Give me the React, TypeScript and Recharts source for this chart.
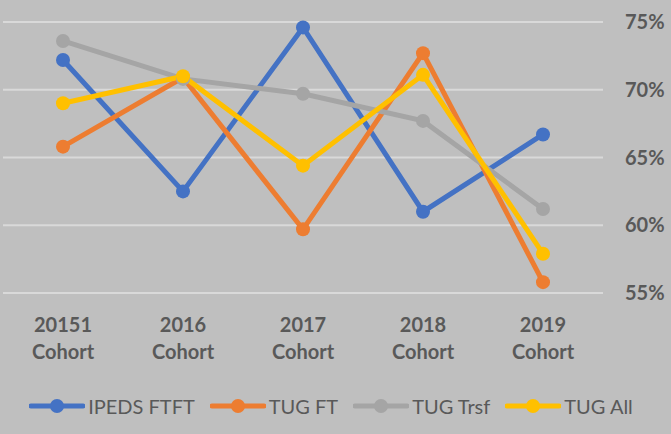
import React from "react";
import { LineChart, Line, XAxis, YAxis, CartesianGrid, Legend } from "recharts";

const cohortYears = ["20151", "2016", "2017", "2018", "2019"];
const cohortSuffix = "Cohort";
const ipedsFtft = [72.2, 62.5, 74.6, 61.0, 66.7];
const tugFt = [65.8, 70.9, 59.7, 72.7, 55.8];
const tugTrsf = [73.6, 70.8, 69.7, 67.7, 61.2];
const tugAll = [69.0, 71.0, 64.4, 71.1, 57.9];
const yTicks = [55, 60, 65, 70, 75];

const series = [
  { key: "ipeds", name: "IPEDS FTFT", color: "#4472C4", values: ipedsFtft },
  { key: "tugft", name: "TUG FT", color: "#ED7D31", values: tugFt },
  { key: "trsf", name: "TUG Trsf", color: "#A5A5A5", values: tugTrsf },
  { key: "all", name: "TUG All", color: "#FFC000", values: tugAll },
];

const data = cohortYears.map((y, i) => {
  const row: any = { cat: y };
  series.forEach((s) => (row[s.key] = s.values[i]));
  return row;
});

const FONT = "Lato, 'Open Sans', sans-serif";
const TEXT = "#595959";

const XTick = (props: any) => {
  const { x, y, payload } = props;
  return (
    <text x={x} y={y} textAnchor="middle" fill={TEXT} fontFamily={FONT} fontWeight={700} fontSize={20}>
      <tspan x={x} dy={31}>{payload.value}</tspan>
      <tspan x={x} dy={27}>{cohortSuffix}</tspan>
    </text>
  );
};

const YTick = (props: any) => {
  const { x, y, payload } = props;
  return (
    <text x={x} y={y} dx={14} dy="0.36em" textAnchor="start" fill={TEXT} fontFamily={FONT} fontWeight={700} fontSize={20}>
      {`${payload.value}%`}
    </text>
  );
};

const LegendContent = () => (
  <div style={{ display: "flex", justifyContent: "center", alignItems: "center", height: 36, gap: 15, fontFamily: FONT, fontSize: 20, color: TEXT, paddingRight: 12 }}>
    {series.map((s) => (
      <div key={s.key} style={{ display: "flex", alignItems: "center" }}>
        <svg width={56} height={16} style={{ display: "block" }}>
          <line x1={2} y1={8} x2={54} y2={8} stroke={s.color} strokeWidth={5} strokeLinecap="round" />
          <circle cx={28} cy={8} r={7} fill={s.color} />
        </svg>
        <span style={{ marginLeft: 3, lineHeight: "20px" }}>{s.name}</span>
      </div>
    ))}
  </div>
);

export default function App() {
  return (
    <div style={{ position: "absolute", left: 0, top: 0, width: 671, height: 434, background: "#BFBFBF" }}>
      <LineChart width={671} height={434} data={data} margin={{ top: 22, right: 0, left: 3, bottom: 10 }}>
        <CartesianGrid vertical={false} stroke="#D9D9D9" strokeWidth={2} />
        <XAxis dataKey="cat" axisLine={false} tickLine={false} tick={<XTick />} height={95} interval={0} padding={{ left: 60, right: 60 }} />
        <YAxis orientation="right" domain={[55, 75]} ticks={yTicks} axisLine={false} tickLine={false} tick={<YTick />} width={68} />
        <Legend verticalAlign="bottom" height={36} content={<LegendContent />} />
        {series.map((s) => (
          <Line
            key={s.key}
            dataKey={s.key}
            name={s.name}
            stroke={s.color}
            strokeWidth={5}
            dot={{ r: 7, fill: s.color, stroke: s.color, strokeWidth: 0 }}
            activeDot={false}
            isAnimationActive={false}
          />
        ))}
      </LineChart>
    </div>
  );
}
